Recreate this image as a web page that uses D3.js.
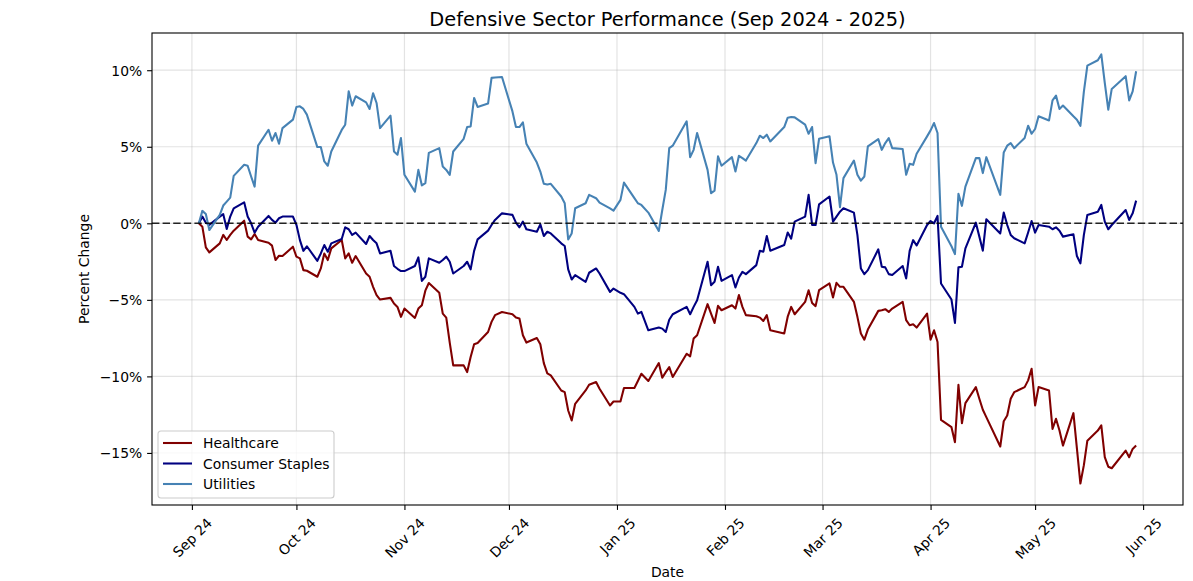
<!DOCTYPE html>
<html>
<head>
<meta charset="utf-8">
<script src="https://cdn.jsdelivr.net/npm/d3@7"></script>
<style>
  body { margin: 0; background: #fff; }
  text { font-family: "DejaVu Sans", sans-serif; }
</style>
</head>
<body>
<svg id="chart" width="1193" height="581"></svg>
<script>
// trading days: weekdays between these dates, minus market holidays
var firstDay = "2024-09-03", lastDay = "2025-05-30";
var holidays = ["2024-11-28", "2024-12-25", "2025-01-01", "2025-01-09",
                "2025-01-20", "2025-02-17", "2025-04-18", "2025-05-26"];

// percent change since first day, one value per trading day
var healthcare = [
  0, -0.22, -1.57, -1.9, -1.31, -0.76, -1.09, -0.76, -0.48, 0.17,
  -0.87, -1.05, -0.7, -1.09, -1.27, -1.46, -2.4, -2.12, -2.14, -1.53,
  -2.18, -2.29, -3.06, -3.1, -3.49, -2.95, -1.97, -2.4, -1.64, -1.09,
  -2.29, -1.97, -2.58, -2.14, -3.28, -3.49, -4.15, -4.69, -4.98, -4.87,
  -5.24, -5.46, -6.11, -5.57, -6.18, -5.57, -5.35, -4.4, -3.9, -4.54,
  -5.9, -6.16, -7.8, -9.28, -9.28, -9.72, -8.73, -7.9, -7.82, -7.1,
  -6.44, -6.0, -5.79, -5.94, -6.16, -6.22, -7.31, -7.79, -7.49, -7.9,
  -9.13, -9.8, -9.93, -10.92, -11.03, -12.23, -12.88, -11.79, -10.92, -10.55,
  -10.37, -10.81, -11.9, -11.64, -11.64, -10.76, -10.76, -10.3, -9.83, -10.3,
  -9.13, -10.09, -9.72, -9.39, -10.04, -8.52, -8.69, -7.53, -7.31, -5.28,
  -5.9, -6.51, -5.39, -5.68, -5.35, -5.57, -4.69, -5.46, -6.0, -6.07,
  -6.16, -6.38, -6.0, -6.99, -7.2, -6.1, -5.46, -5.94, -5.13, -4.37,
  -5.2, -5.41, -4.37, -3.93, -4.85, -3.89, -4.15, -4.15, -5.13, -6.11,
  -7.2, -7.6, -6.94, -5.72, -5.68, -5.61, -5.79, -5.57, -5.13, -6.33,
  -6.66, -6.6, -6.81, -5.9, -7.6, -6.99, -7.75, -12.84, -13.32, -14.3,
  -10.55, -13.06, -11.75, -10.7, -11.46, -12.18, -12.66, -14.58, -12.93, -12.56,
  -11.46, -11.03, -10.7, -10.26, -9.5, -11.9, -10.7, -10.92, -13.43, -12.77,
  -13.54, -14.52, -12.4, -14.7, -17.0, -15.8, -14.2, -13.54, -13.2, -15.28,
  -15.9, -16.0, -14.85, -15.28, -14.74, -14.52
];
var staples = [
  0, 0.44, 0.04, -0.1, 0.44, 0.6, -0.37, 0.44, 0.98, 1.37,
  0.44, 0, -0.61, -0.22, 0.48, 0.22, 0.04, 0.33, 0.44, 0.44,
  -0.1, -1.1, -1.8, -1.5, -2.45, -1.97, -1.42, -1.86, -1.31, -1.03,
  -0.26, -0.39, -0.76, -0.61, -1.35, -0.83, -1.09, -1.31, -1.97, -1.79,
  -2.79, -2.97, -3.12, -3.12, -2.79, -2.23, -3.76, -3.49, -2.29, -2.58,
  -2.4, -2.18, -2.51, -3.28, -2.79, -2.51, -3.01, -1.8, -1.05, -0.48,
  -0.11, 0.22, 0.65, 0.55, 0.04, -0.26, 0.11, -0.39, -0.55, -0.07,
  -0.83, -0.55, -0.66, -1.31, -1.48, -3.01, -3.67, -3.38, -3.82, -3.23,
  -2.95, -3.28, -4.48, -4.26, -4.54, -4.63, -5.46, -5.9, -5.79, -6.99,
  -6.81, -6.88, -7.1, -6.3, -5.94, -5.46, -5.94, -5.46, -5.02, -2.51,
  -4.04, -3.82, -2.84, -3.76, -3.38, -4.19, -3.54, -3.17, -3.32, -2.73,
  -1.79, -1.86, -0.83, -1.79, -1.42, -0.6, -1.0, 0.11, 0.44, 1.86,
  -0.11, -0.11, 1.24, 1.75, 0.11, 0.44, 0.76, 0.98, 0.7, -0.76,
  -2.95, -3.32, -3.06, -1.7, -2.84, -2.88, -3.32, -3.38, -2.79, -3.6,
  -1.8, -1.1, -1.45, -0.11, 0.15, 0, 0.48, -3.93, -4.98, -6.51,
  -2.88, -2.84, -1.64, 0.04, -0.87, -1.79, 0.26, -0.66, 0.7, -0.11,
  -0.76, -0.98, -1.31, -0.6, 0.15, -0.61, -0.11, -0.22, -0.39, -0.26,
  -0.48, -0.87, -0.72, -2.14, -2.62, -0.76, 0.55, 0.76, 1.2, 0.11,
  -0.39, -0.11, 0.87, 0.22, 0.65, 1.48
];
var utilities = [
  0, 0.81, 0.61, -0.44, 0.55, 1.16, 1.42, 1.68, 3.1, 3.82,
  3.76, 3.06, 2.4, 5.07, 6.11, 5.39, 5.9, 5.2, 6.22, 6.77,
  7.6, 7.64, 7.47, 7.1, 4.98, 4.98, 4.04, 3.76, 4.69, 6.1,
  6.44, 8.62, 7.69, 8.3, 7.9, 7.47, 8.5, 7.86, 6.22, 7.03,
  4.69, 4.48, 5.57, 3.17, 2.07, 3.49, 2.47, 2.62, 4.6, 4.91,
  3.71, 3.49, 3.17, 4.69, 5.52, 6.29, 6.33, 8.19, 7.6, 7.82,
  9.5, 9.52, 9.56, 7.31, 6.29, 6.29, 6.59, 5.2, 3.97, 3.38,
  2.58, 2.53, 2.58, 1.75, 1.31, -1.05, -0.66, 0.98, 1.31, 1.86,
  1.64, 1.35, 0.98, 0.83, 1.53, 2.66, 1.64, 1.31, 1.2, 0.7,
  -0.5, 0.87, 2.18, 4.91, 5.07, 6.66, 4.32, 4.8, 5.9, 3.49,
  1.97, 2.14, 4.37, 3.76, 4.32, 3.38, 4.41, 4.26, 4.1, 5.24,
  5.72, 5.57, 5.79, 5.35, 6.29, 6.9, 6.94, 6.92, 6.44, 5.85,
  6.29, 3.93, 5.52, 5.68, 3.97, 3.17, 1.05, 2.95, 4.1, 3.17,
  2.79, 3.06, 5.02, 5.5, 4.8, 5.24, 5.57, 4.91, 4.85, 3.17,
  3.89, 3.82, 4.54, 5.68, 6.07, 6.55, 5.9, -0.22, -1.5, -2.01,
  1.92, 1.14, 2.4, 4.26, 4.26, 3.28, 4.32, 1.86, 4.63, 5.07,
  5.24, 4.91, 5.57, 6.37, 5.85, 6.16, 6.99, 6.72, 8.03, 8.34,
  7.47, 7.69, 6.99, 6.77, 6.37, 8.6, 10.3, 10.65, 11.03, 9.17,
  7.42, 8.78, 9.61, 8.03, 8.62, 9.93
];

var seriesNames = ["Healthcare", "Consumer Staples", "Utilities"];
var seriesColors = ["#800000", "#000080", "#4682b4"];
var yTicks = [-15, -10, -5, 0, 5, 10];
var xTickMonths = ["2024-09-01", "2024-10-01", "2024-11-01", "2024-12-01", "2025-01-01",
                   "2025-02-01", "2025-03-01", "2025-04-01", "2025-05-01", "2025-06-01"];

var parse = d3.utcParse("%Y-%m-%d"), fmt = d3.utcFormat("%Y-%m-%d");
var dates = d3.utcDay.range(parse(firstDay), d3.utcDay.offset(parse(lastDay), 1))
  .filter(function (d) { return d.getUTCDay() % 6 !== 0 && holidays.indexOf(fmt(d)) < 0; });

var series = [healthcare, staples, utilities].map(function (vals, i) {
  return { name: seriesNames[i], color: seriesColors[i],
           values: vals.map(function (v, j) { return { date: dates[j], value: v }; }) };
});

var svg = d3.select("#chart"),
    margin = { top: 33, right: 10, bottom: 76, left: 152 },
    width = +svg.attr("width") - margin.left - margin.right,
    height = +svg.attr("height") - margin.top - margin.bottom,
    g = svg.append("g").attr("transform", "translate(" + margin.left + "," + margin.top + ")");

// matplotlib-style 5% padding around the data
var t0 = dates[0], t1 = dates[dates.length - 1], span = t1 - t0;
var x = d3.scaleUtc().domain([new Date(+t0 - 0.05 * span), new Date(+t1 + 0.05 * span)]).range([0, width]);
var all = healthcare.concat(staples, utilities);
var ymin = d3.min(all), ymax = d3.max(all), yr = ymax - ymin;
var y = d3.scaleLinear().domain([ymin - 0.05 * yr, ymax + 0.05 * yr]).range([height, 0]);

var monthTicks = xTickMonths.map(parse);

// grid
g.append("g").selectAll("line").data(monthTicks).enter().append("line")
  .attr("x1", function (d) { return x(d); }).attr("x2", function (d) { return x(d); })
  .attr("y1", 0).attr("y2", height)
  .attr("stroke", "#b0b0b0").attr("stroke-opacity", 0.35).attr("stroke-width", 1.2);
g.append("g").selectAll("line").data(yTicks).enter().append("line")
  .attr("y1", function (d) { return y(d); }).attr("y2", function (d) { return y(d); })
  .attr("x1", 0).attr("x2", width)
  .attr("stroke", "#b0b0b0").attr("stroke-opacity", 0.35).attr("stroke-width", 1.2);

// series
var line = d3.line().x(function (d) { return x(d.date); }).y(function (d) { return y(d.value); });
g.selectAll(".series").data(series).enter().append("path")
  .attr("class", "series")
  .attr("d", function (d) { return line(d.values); })
  .attr("fill", "none")
  .attr("stroke", function (d) { return d.color; })
  .attr("stroke-width", 2.08)
  .attr("stroke-linejoin", "round");

// zero line
g.append("line").attr("x1", 0).attr("x2", width).attr("y1", y(0)).attr("y2", y(0))
  .attr("stroke", "#000").attr("stroke-opacity", 0.85).attr("stroke-width", 1.6)
  .attr("stroke-dasharray", "7.4,3.2");

// axes
var yAxis = g.append("g").call(d3.axisLeft(y).tickValues(yTicks).tickSize(4.9).tickPadding(4.9)
  .tickFormat(function (d) { return (d < 0 ? "\u2212" : "") + Math.abs(d) + "%"; }));
var xAxis = g.append("g").attr("transform", "translate(0," + height + ")")
  .call(d3.axisBottom(x).tickValues(monthTicks).tickSize(4.9).tickFormat(d3.utcFormat("%b %y")));
[xAxis, yAxis].forEach(function (a) {
  a.select(".domain").remove();
  a.selectAll("line").attr("stroke", "#000").attr("stroke-width", 1.1);
  a.selectAll("text").attr("font-size", "13.9px").attr("fill", "#000")
    .style("font-family", "DejaVu Sans, sans-serif");
});
yAxis.selectAll("text").attr("dy", "0.36em");

// rotated x labels, bbox centred under the tick
xAxis.selectAll(".tick text").each(function () {
  var t = d3.select(this), w = this.getComputedTextLength(), h = 16.2;
  var half = (w + h) * Math.SQRT1_2 / 2;
  t.attr("y", null).attr("dy", null)
   .attr("text-anchor", "middle").attr("dominant-baseline", "central")
   .attr("transform", "translate(0," + (9.7 + half) + ") rotate(-45)");
});

// frame
g.append("rect").attr("width", width).attr("height", height)
  .attr("fill", "none").attr("stroke", "#000").attr("stroke-width", 1.1);

// labels
svg.append("text").attr("x", margin.left + width / 2).attr("y", 26)
  .attr("text-anchor", "middle").attr("font-size", "19.4px").text("Defensive Sector Performance (Sep 2024 - 2025)");
svg.append("text").attr("x", margin.left + width / 2).attr("y", 577)
  .attr("text-anchor", "middle").attr("font-size", "13.9px").text("Date");
svg.append("text").attr("transform", "translate(89," + (margin.top + height / 2) + ") rotate(-90)")
  .attr("text-anchor", "middle").attr("font-size", "13.9px").text("Percent Change");

// legend
var lg = g.append("g").attr("transform", "translate(6," + (height - 74) + ")");
lg.append("rect").attr("width", 176).attr("height", 67).attr("rx", 3)
  .attr("fill", "#fff").attr("fill-opacity", 0.8).attr("stroke", "#cccccc").attr("stroke-width", 1.1);
var items = lg.selectAll(".item").data(series).enter().append("g")
  .attr("transform", function (d, i) { return "translate(0," + (12 + i * 20.5) + ")"; });
items.append("line").attr("x1", 5).attr("x2", 34)
  .attr("stroke", function (d) { return d.color; }).attr("stroke-width", 2.08);
items.append("text").attr("x", 45).attr("dy", "0.36em").attr("font-size", "13.9px")
  .text(function (d) { return d.name; });
</script>
</body>
</html>
